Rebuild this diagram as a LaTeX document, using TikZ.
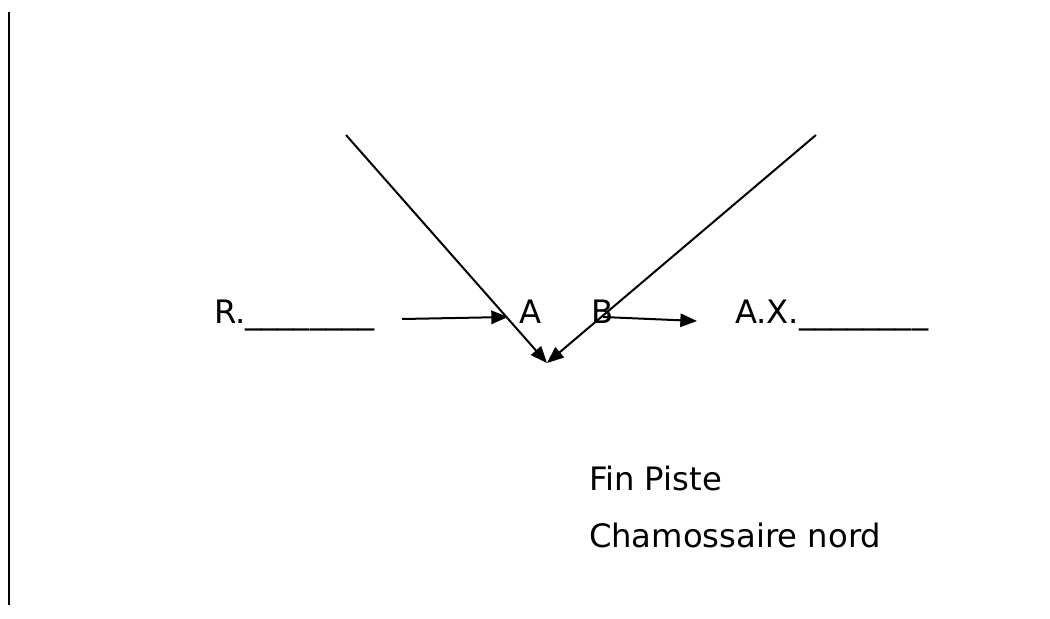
\documentclass[tikz,border=0pt]{standalone}
\usepackage{fontspec}
\setmainfont{DejaVu Sans}
\usepackage{tikz}
\usetikzlibrary{arrows.meta, positioning, calc}

\begin{document}
\begin{tikzpicture}[x=0.75pt,y=-0.75pt,>={Triangle[length=12.5pt,width=10pt]},
			line width=1.5pt,
			main label/.style={anchor=base west,inner sep=0pt,font=\fontsize{24.2}{29}\selectfont}]
			
			\useasboundingbox (0,0) rectangle (1050,618);
			
			\coordinate (top) at (9,12);
			\coordinate (bottom) at (9,605);
			\draw[line width=1.2pt] (top) -- (bottom);
			
			\node[main label] (R) at (213,323) {R.\_\_\_\_\_\_\_\_};
			\node[main label] (A) at (518,323) {A};
			\node[main label] (B) at (590,323) {B};
			\node[main label] (AX) at (734,323) {A.X.\_\_\_\_\_\_\_\_};
			\node[main label] (fin) at (588,490) {Fin Piste};
			\node[main label] (cham) at (588,547) {Chamossaire nord};
			
			\coordinate (left end) at (346,135);
			\coordinate (right end) at (816,135);
			\coordinate (meet) at (547,363);
			\coordinate (r tail) at (402,319);
			\coordinate (a tip) at (508,317);
			\coordinate (b tail) at (603,317);
			\coordinate (ax tip) at (697,321);
			
			\draw[->] (left end) -- (meet);
			\draw[->] (right end) -- (meet);
			\draw[->] (r tail) -- (a tip);
			\draw[->] (b tail) -- (ax tip);
		\end{tikzpicture}
\end{document}
